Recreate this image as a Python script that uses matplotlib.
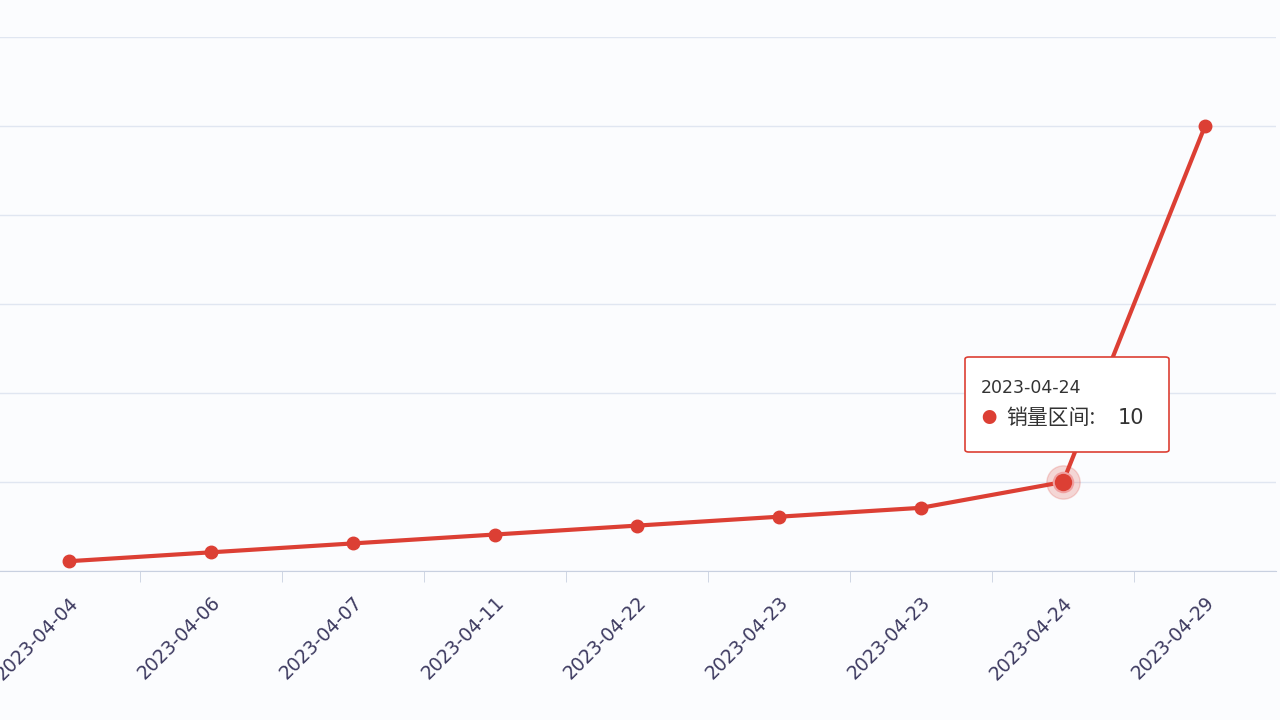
import matplotlib
matplotlib.use("Agg")
import matplotlib.pyplot as plt
from matplotlib.patches import FancyBboxPatch

plt.rcParams["font.family"] = ["Noto Sans CJK SC", "DejaVu Sans"]

dates = ["2023-04-04", "2023-04-06", "2023-04-07", "2023-04-11", "2023-04-22",
         "2023-04-23", "2023-04-23", "2023-04-24", "2023-04-29"]
sales = [1.1, 2.1, 3.1, 4.1, 5.1, 6.1, 7.1, 10, 50]
hl = 7  # highlighted point (tooltip)

red = "#dc3f34"
fig = plt.figure(figsize=(12.8, 7.2), dpi=100)
fig.patch.set_facecolor("#fbfcfe")
ax = fig.add_axes([-2 / 1280, 1 - 571 / 720, 1278 / 1280, (571 - 37) / 720])
ax.set_facecolor("#fbfcfe")

x = list(range(len(dates)))
ax.plot(x, sales, color=red, lw=3, marker="o", ms=9, zorder=3)
ax.plot(x[hl], sales[hl], "o", color=red, ms=24, alpha=0.2, zorder=4)
ax.plot(x[hl], sales[hl], "o", color=red, ms=14, zorder=5, mec="#f0a0a0", mew=1.5)

ax.set_xlim(-0.5, len(dates) - 0.5)
ax.set_ylim(0, 60)
ax.set_yticks(range(0, 61, 10))
ax.yaxis.grid(True, color="#e0e6f1", lw=1)
ax.tick_params(axis="y", left=False, labelleft=False)
ax.set_xticks([i + 0.5 for i in x[:-1]], minor=True)
ax.set_xticks(x)
ax.set_xticklabels(dates, rotation=45, ha="right", rotation_mode="anchor",
                   fontsize=13.5, color="#3d3a60", family="DejaVu Sans")
ax.tick_params(axis="x", which="major", length=0, pad=16)
ax.tick_params(axis="x", which="minor", length=8, color="#c8d0e0")
for s in ["top", "right", "left"]:
    ax.spines[s].set_visible(False)
ax.spines["bottom"].set_color("#c8d0e0")

# tooltip
box = FancyBboxPatch((965 / 1280, 1 - 452 / 720), 204 / 1280, 95 / 720,
                     boxstyle="round,pad=0,rounding_size=0.003", transform=fig.transFigure,
                     facecolor="white", edgecolor=red, lw=1.2, zorder=10)
fig.patches.append(box)
fig.text(981 / 1280, 1 - 388 / 720, dates[hl], fontsize=12.5, color="#333333",
         va="center", zorder=11, family="DejaVu Sans")
fig.text(981 / 1280, 1 - 418 / 720, "●", fontsize=11, color=red, va="center", zorder=11)
fig.text(1006 / 1280, 1 - 418 / 720, "销量区间:", fontsize=15,
         color="#333333", va="center", zorder=11)
fig.text(1118 / 1280, 1 - 418 / 720, f"{sales[hl]:g}", fontsize=15,
         color="#333333", va="center", zorder=11, family="DejaVu Sans")

fig.savefig("out.png", dpi=100, facecolor=fig.get_facecolor())
